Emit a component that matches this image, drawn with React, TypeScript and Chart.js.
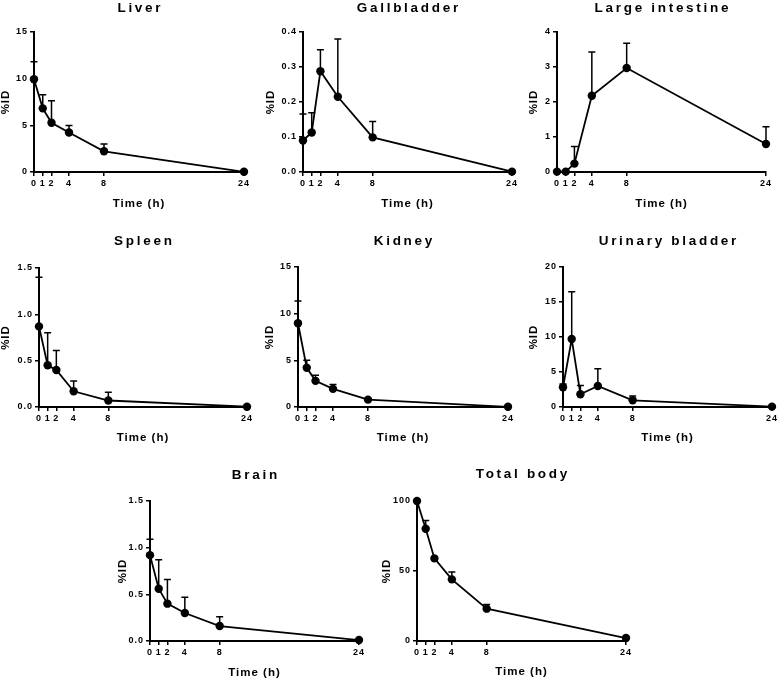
import React, { useEffect, useRef } from "react";
import { Chart, registerables } from "chart.js";

Chart.register(...registerables);

// ---------- data ----------
const TIMES = [0, 1, 2, 4, 8, 24];
const X_TICKS = [0, 1, 2, 4, 8, 24];

const liverMean = [9.94, 6.82, 5.27, 4.23, 2.22, 0.02];
const liverSD = [1.86, 1.47, 2.37, 0.76, 0.79, 0];

const gallbladderMean = [0.09, 0.113, 0.288, 0.215, 0.099, 0.001];
const gallbladderSD = [0.076, 0.056, 0.061, 0.165, 0.045, 0];

const largeIntestineMean = [0.01, 0.01, 0.24, 2.18, 2.97, 0.8];
const largeIntestineSD = [0, 0, 0.49, 1.25, 0.71, 0.49];

const spleenMean = [0.87, 0.45, 0.4, 0.17, 0.07, 0.003];
const spleenSD = [0.53, 0.35, 0.21, 0.11, 0.09, 0];

const kidneyMean = [8.97, 4.2, 2.8, 1.94, 0.79, 0.02];
const kidneySD = [2.4, 0.82, 0.61, 0.46, 0.1, 0];

const bladderMean = [2.82, 9.71, 1.82, 3.01, 0.96, 0.05];
const bladderSD = [0.48, 6.75, 1.24, 2.44, 0.62, 0];

const brainMean = [0.92, 0.56, 0.4, 0.3, 0.16, 0.01];
const brainSD = [0.17, 0.31, 0.26, 0.17, 0.1, 0];

const totalMean = [100, 80.2, 59.0, 44.0, 23.1, 2.1];
const totalSD = [0, 5.8, 0.8, 5.3, 2.9, 0];

const TITLES = ["Liver", "Gallbladder", "Large intestine", "Spleen", "Kidney", "Urinary bladder", "Brain", "Total body"];
const Y_MAX = [15, 0.4, 4, 1.5, 15, 20, 1.5, 100];
const Y_STEP = [5, 0.1, 1, 0.5, 5, 5, 0.5, 50];
const Y_DECIMALS = [0, 1, 0, 1, 0, 0, 1, 0];
const MEANS = [liverMean, gallbladderMean, largeIntestineMean, spleenMean, kidneyMean, bladderMean, brainMean, totalMean];
const SDS = [liverSD, gallbladderSD, largeIntestineSD, spleenSD, kidneySD, bladderSD, brainSD, totalSD];

const X_TITLE = "Time (h)";
const Y_TITLE = "%ID";

// ---------- layout (plot area in page pixels) ----------
type Geo = { l: number; t: number; r: number; b: number; yOff: number; xOff: number; tOff: number };
const GEO: Geo[] = [
  { l: 34, t: 32, r: 244, b: 172, yOff: 28, xOff: 32, tOff: 24 },
  { l: 303, t: 32, r: 512, b: 172, yOff: 32, xOff: 32, tOff: 23.5 },
  { l: 557, t: 32, r: 766, b: 172, yOff: 23, xOff: 32, tOff: 23.5 },
  { l: 39, t: 268, r: 247, b: 407, yOff: 33, xOff: 31, tOff: 26.5 },
  { l: 298, t: 267, r: 508, b: 407, yOff: 28, xOff: 31, tOff: 25.5 },
  { l: 563, t: 267, r: 772, b: 407, yOff: 29, xOff: 31, tOff: 25.5 },
  { l: 150, t: 501, r: 359, b: 641, yOff: 27, xOff: 32, tOff: 26 },
  { l: 417, t: 501, r: 626, b: 641, yOff: 30, xOff: 31, tOff: 26.5 },
];

const FONT = "'Liberation Sans', Arial, Helvetica, sans-serif";
const TOP = 40;
const RIGHT = 8;
const BOTTOM_PAD = 2;

const spacingPlugin = {
  id: "spacing",
  beforeDraw(chart: any) {
    (chart.ctx as any).letterSpacing = "1px";
  },
};

const errorBarPlugin = {
  id: "errorBars",
  beforeDatasetsDraw(chart: any) {
    const ctx = chart.ctx;
    const xs = chart.scales.x;
    const ys = chart.scales.y;
    chart.data.datasets.forEach((ds: any) => {
      const sd: number[] = ds.sd || [];
      ds.data.forEach((pt: any, i: number) => {
        const s = sd[i] || 0;
        if (s <= 0) return;
        const x = xs.getPixelForValue(pt.x);
        const y0 = ys.getPixelForValue(pt.y);
        const y1 = ys.getPixelForValue(pt.y + s);
        ctx.save();
        ctx.strokeStyle = "#000";
        ctx.lineWidth = 1.5;
        ctx.beginPath();
        ctx.moveTo(x, y0);
        ctx.lineTo(x, y1);
        ctx.moveTo(x - 3.5, y1);
        ctx.lineTo(x + 3.5, y1);
        ctx.stroke();
        ctx.restore();
      });
    });
  },
};

const panelTitlePlugin = {
  id: "panelTitle",
  afterDraw(chart: any, _args: any, opts: any) {
    const ctx = chart.ctx;
    const a = chart.chartArea;
    ctx.save();
    ctx.font = `bold 13.5px ${FONT}`;
    (ctx as any).letterSpacing = "2.7px";
    ctx.fillStyle = "#000";
    ctx.textAlign = "center";
    ctx.textBaseline = "middle";
    ctx.fillText(opts.text, (a.left + a.right) / 2 + 1.35, a.top - opts.offset);
    ctx.restore();
  },
};

function Panel({ idx }: { idx: number }) {
  const ref = useRef<HTMLCanvasElement | null>(null);
  const g = GEO[idx];
  const wy = g.yOff + 10;
  const hx = g.xOff + 8;
  const width = wy + (g.r - g.l) + RIGHT;
  const height = TOP + (g.b - g.t) + hx + BOTTOM_PAD;
  const left = g.l - wy;
  const top = g.t - TOP;

  useEffect(() => {
    if (!ref.current) return;
    const dec = Y_DECIMALS[idx];
    const tickFont = { family: FONT, size: 9, weight: "bold" as const };
    const titleFont = { family: FONT, size: 11.5, weight: "bold" as const };
    const chart = new Chart(ref.current, {
      type: "line",
      data: {
        datasets: [
          {
            data: TIMES.map((t, i) => ({ x: t, y: MEANS[idx][i] })),
            sd: SDS[idx],
            borderColor: "#000",
            borderWidth: 1.8,
            backgroundColor: "#000",
            pointBackgroundColor: "#000",
            pointBorderWidth: 0,
            pointRadius: 4.2,
            pointHoverRadius: 4.2,
            tension: 0,
            clip: false,
          } as any,
        ],
      },
      options: {
        responsive: false,
        maintainAspectRatio: false,
        devicePixelRatio: 1,
        animation: false,
        events: [],
        layout: { padding: { top: TOP, left: 0, right: RIGHT, bottom: BOTTOM_PAD } },
        plugins: {
          legend: { display: false },
          tooltip: { enabled: false },
          title: { display: false },
          panelTitle: { text: TITLES[idx], offset: g.tOff },
        } as any,
        scales: {
          x: {
            type: "linear",
            min: 0,
            max: 24,
            afterBuildTicks: (scale: any) => {
              scale.ticks = X_TICKS.map((v) => ({ value: v }));
            },
            afterFit: (scale: any) => {
              scale.height = hx;
            },
            ticks: {
              color: "#000",
              font: tickFont,
              padding: 2,
              maxRotation: 0,
              autoSkip: false,
              callback: (v: any) => String(v),
            },
            grid: { display: true, drawOnChartArea: false, drawTicks: true, tickLength: 4, color: "#000", lineWidth: 1.5 },
            border: { display: true, color: "#000", width: 2 },
            title: { display: true, text: X_TITLE, color: "#000", font: titleFont, padding: { top: 0, bottom: 8 - 6.9 } },
          },
          y: {
            type: "linear",
            min: 0,
            max: Y_MAX[idx],
            afterFit: (scale: any) => {
              scale.width = wy;
            },
            ticks: {
              stepSize: Y_STEP[idx],
              color: "#000",
              font: tickFont,
              padding: 2,
              callback: (v: any) => Number(v).toFixed(dec),
            },
            grid: { display: true, drawOnChartArea: false, drawTicks: true, tickLength: 4, color: "#000", lineWidth: 1.5 },
            border: { display: true, color: "#000", width: 2 },
            title: { display: true, text: Y_TITLE, color: "#000", font: titleFont, padding: { top: 10 - 6.9, bottom: 0 } },
          },
        },
      },
      plugins: [spacingPlugin, errorBarPlugin, panelTitlePlugin],
    } as any);
    return () => chart.destroy();
  }, [idx]);

  return (
    <canvas
      ref={ref}
      width={width}
      height={height}
      style={{ position: "absolute", left, top, width, height }}
    />
  );
}

export default function App() {
  return (
    <div
      style={{
        position: "absolute",
        left: 0,
        top: 0,
        width: 778,
        height: 680,
        overflow: "hidden",
        background: "#fff",
      }}
    >
      {TITLES.map((_, i) => (
        <Panel key={i} idx={i} />
      ))}
    </div>
  );
}
